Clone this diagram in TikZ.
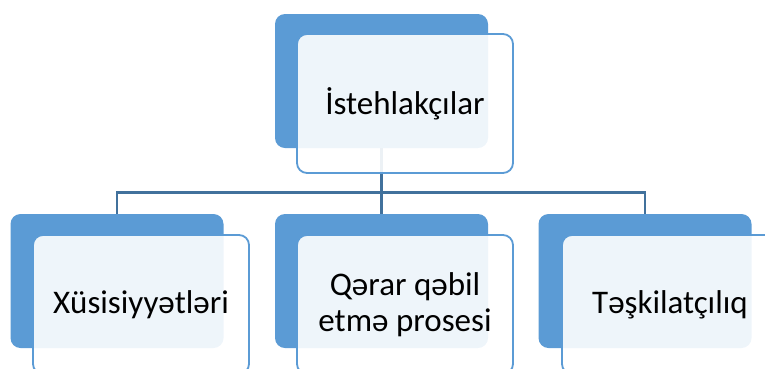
\documentclass[tikz,border=0pt]{standalone}
\usepackage{fontspec}
\setmainfont{Carlito}
\definecolor{accent}{RGB}{91,155,213}
\definecolor{linkblue}{RGB}{65,113,156}
\begin{document}
\begin{tikzpicture}[x=1pt,y=-1pt,
  backbox/.style={draw=none,fill=accent,rounded corners=10pt,
    minimum width=213pt,minimum height=134pt,inner sep=0pt},
  frontbox/.style={draw=accent,line width=1.8pt,fill=white,fill opacity=0.9,
    text opacity=1,rounded corners=10pt,minimum width=216pt,minimum height=139pt,
    inner sep=0pt,align=center,font=\fontsize{33}{36}\selectfont},
  link/.style={draw=linkblue,line width=2.4pt}]
\useasboundingbox (0,0) rectangle (765,368);
\clip (0,0) rectangle (765,368);

% back plates
\node[backbox] (topback) at (381.5,81) {};
\node[backbox] (c1back) at (117,281) {};
\node[backbox] (c2back) at (381.5,281) {};
\node[backbox] (c3back) at (645,281) {};

% tree connectors
\coordinate (bus) at (381.5,192.5);
\draw[link] (topback.south) -- (bus);
\draw[link] (bus) -| (c1back.north);
\draw[link] (bus) -- (c2back.north);
\draw[link] (bus) -| (c3back.north);

% front cards with labels
\node[frontbox] (top) at (405,103.5) {İstehlakçılar};
\node[frontbox] (c1) at (141,304.5) {Xüsisiyyətləri};
\node[frontbox] (c2) at (405,304.5) {Qərar qəbil\\etmə prosesi};
\node[frontbox] (c3) at (670,304.5) {Təşkilatçılıq};
\end{tikzpicture}
\end{document}
